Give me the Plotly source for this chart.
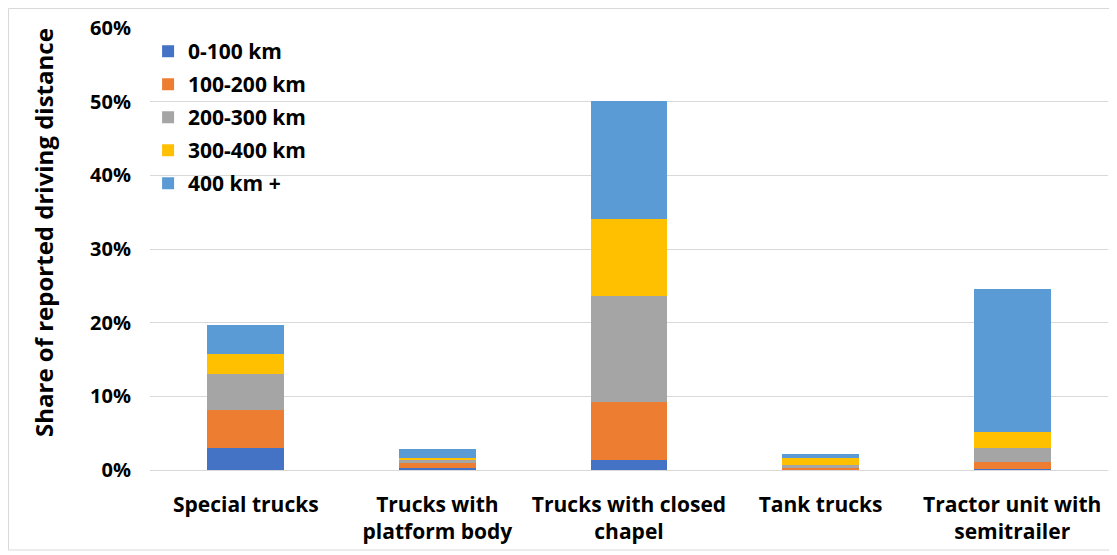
import plotly.graph_objects as go

categories = ["Special trucks", "Trucks with<br>platform body", "Trucks with closed<br>chapel",
              "Tank trucks", "Tractor unit with<br>semitrailer"]
series_names = ["0-100 km", "100-200 km", "200-300 km", "300-400 km", "400 km +"]
v_0_100 = [0.030, 0.003, 0.0136, 0.0005, 0.002]
v_100_200 = [0.051, 0.007, 0.079, 0.002, 0.0095]
v_200_300 = [0.049, 0.003, 0.143, 0.004, 0.0177]
v_300_400 = [0.0275, 0.003, 0.1055, 0.0095, 0.0226]
v_400_plus = [0.040, 0.012, 0.160, 0.0055, 0.194]
colors = ["#4472C4", "#ED7D31", "#A5A5A5", "#FFC000", "#5B9BD5"]
y_ticks = [0, 0.1, 0.2, 0.3, 0.4, 0.5, 0.6]
y_title = "Share of reported driving distance"

series_values = [v_0_100, v_100_200, v_200_300, v_300_400, v_400_plus]

FONT = "Open Sans"
fig = go.Figure()
for i, (name, vals, col) in enumerate(zip(series_names, series_values, colors)):
    fig.add_trace(go.Bar(x=categories, y=vals, name=name, marker_color=col,
                         marker_line_width=0, legendgroup=f"g{i}"))

# page body has an 8px margin; compensate so the plot lands where the reference has it
OFF = 8
W0, W1 = 150 - OFF, 1108 - OFF
T0, B0 = 28 - OFF, 470 - OFF
FW, FH = 1117 - OFF, 555 - OFF
pw = W1 - W0
ph = B0 - T0
fig.update_layout(
    width=FW, height=FH,
    barmode="stack", bargap=0.6,
    plot_bgcolor="white", paper_bgcolor="white",
    margin=dict(l=W0, r=FW - W1, t=T0, b=FH - B0, autoexpand=False),
    font=dict(family=FONT, color="black"),
    showlegend=True,
    legend=dict(x=-0.002, y=0.993, xanchor="left", yanchor="top",
                traceorder="grouped", tracegroupgap=2.7,
                font=dict(family=FONT, size=21, color="black", weight="bold"),
                bgcolor="rgba(0,0,0,0)", itemwidth=30),
    xaxis=dict(showgrid=False, showline=False, ticks="", ticklabelstandoff=20,
               tickfont=dict(family=FONT, size=21, weight="bold")),
    yaxis=dict(range=[0, 0.6], tickvals=y_ticks, tickformat=".0%",
               showgrid=True, gridcolor="#D9D9D9", gridwidth=1,
               zeroline=True, zerolinecolor="#D9D9D9", zerolinewidth=1,
               showline=False, ticks="", ticklabelstandoff=18,
               tickfont=dict(family=FONT, size=20, weight="bold")),
)
fig.add_annotation(text=y_title, textangle=-90, xref="paper", yref="paper",
                   x=(35 - W0) / pw, y=(B0 - 225) / ph, xanchor="center", yanchor="middle",
                   showarrow=False, font=dict(family=FONT, size=24, weight="bold", color="black"))
fig.add_shape(type="rect", xref="paper", yref="paper",
              x0=(0.5 - W0) / pw, x1=(1103 - W0) / pw,
              y0=(B0 - 542) / ph, y1=(B0 - 0.5) / ph,
              line=dict(color="#D9D9D9", width=1), fillcolor="rgba(0,0,0,0)", layer="below")
fig.write_html("out.html")
